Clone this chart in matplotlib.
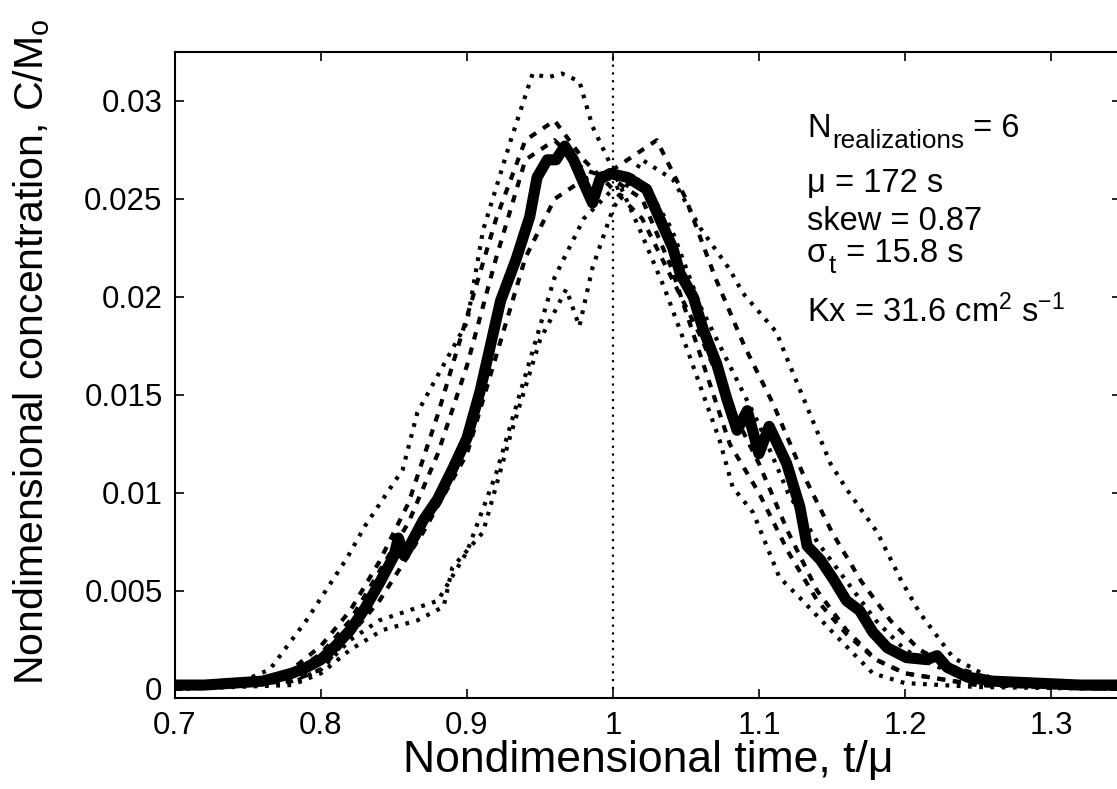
import numpy as np
import matplotlib
matplotlib.use('Agg')
import matplotlib.pyplot as plt
from matplotlib.transforms import offset_copy

plt.rcParams['font.family'] = ['Liberation Sans', 'DejaVu Sans']
plt.rcParams['mathtext.fontset'] = 'custom'
plt.rcParams['mathtext.rm'] = 'Liberation Sans'
plt.rcParams['mathtext.it'] = 'Liberation Sans'

# %% Ensemble mean (thick line)
mean_t = [0.700, 0.720, 0.740, 0.760, 0.770, 0.780, 0.790, 0.800, 0.810, 0.820,
          0.830, 0.840, 0.850, 0.853, 0.857, 0.860, 0.870, 0.880, 0.890, 0.900,
          0.909, 0.923, 0.934, 0.943, 0.948, 0.955, 0.961, 0.967, 0.973, 0.980,
          0.986, 0.991, 0.998, 1.010, 1.023, 1.032, 1.041, 1.046, 1.055, 1.062,
          1.071, 1.078, 1.085, 1.092, 1.100, 1.107, 1.119, 1.128, 1.133, 1.142,
          1.151, 1.160, 1.169, 1.178, 1.188, 1.201, 1.215, 1.222, 1.229, 1.243,
          1.260, 1.290, 1.320, 1.350]
mean_c = [0.0002, 0.0002, 0.0003, 0.0004, 0.0006, 0.0008, 0.0011, 0.0015, 0.0022, 0.0030,
          0.0041, 0.0054, 0.0068, 0.0077, 0.0068, 0.0072, 0.0086, 0.0097, 0.0112, 0.0128,
          0.0152, 0.0198, 0.0220, 0.0241, 0.0261, 0.0270, 0.0270, 0.0277, 0.0270, 0.0258,
          0.0248, 0.0260, 0.0263, 0.0261, 0.0255, 0.0240, 0.0225, 0.0212, 0.0200, 0.0183,
          0.0166, 0.0148, 0.0132, 0.0142, 0.0120, 0.0134, 0.0115, 0.0093, 0.0073, 0.0066,
          0.0056, 0.0045, 0.0040, 0.0029, 0.0021, 0.0016, 0.0015, 0.0017, 0.0011, 0.0006,
          0.0004, 0.0003, 0.0002, 0.0002]

# %% Individual realizations (dotted), approximate traces
r1_t = [0.70, 0.74, 0.765, 0.79, 0.818, 0.83, 0.856, 0.866, 0.88, 0.90, 0.911, 0.93, 0.945,
        0.955, 0.965, 0.977, 0.986, 1.00, 1.018, 1.035, 1.05, 1.073, 1.082, 1.096, 1.114,
        1.13, 1.153, 1.178, 1.20, 1.25, 1.35]
r1_c = [0.0, 0.0002, 0.0010, 0.0035, 0.0067, 0.0083, 0.0112, 0.0141, 0.0160, 0.0187, 0.0234,
        0.0280, 0.0314, 0.0312, 0.0314, 0.0310, 0.0287, 0.0265, 0.0235, 0.0205, 0.0175, 0.0127,
        0.0103, 0.0090, 0.0057, 0.0045, 0.0027, 0.0008, 0.0003, 0.0001, 0.0]

r2_t = [0.70, 0.76, 0.78, 0.80, 0.82, 0.84, 0.86, 0.88, 0.90, 0.92, 0.94, 0.96, 0.98, 1.00,
        1.02, 1.04, 1.06, 1.08, 1.10, 1.12, 1.14, 1.16, 1.18, 1.20, 1.25, 1.35]
r2_c = [0.0, 0.0003, 0.0010, 0.0022, 0.0040, 0.0065, 0.0095, 0.0140, 0.0190, 0.0240, 0.0280,
        0.0290, 0.0270, 0.0255, 0.0240, 0.0210, 0.0180, 0.0145, 0.0115, 0.0080, 0.0050,
        0.0030, 0.0015, 0.0008, 0.0002, 0.0]

r3_t = [0.70, 0.78, 0.80, 0.82, 0.842, 0.866, 0.884, 0.89, 0.911, 0.93, 0.95, 0.968, 0.977,
        0.986, 1.00, 1.02, 1.041, 1.06, 1.08, 1.089, 1.112, 1.119, 1.149, 1.16, 1.181, 1.197,
        1.21, 1.233, 1.26, 1.30, 1.35]
r3_c = [0.0, 0.0002, 0.0008, 0.0020, 0.0030, 0.0035, 0.0042, 0.0062, 0.0080, 0.0130, 0.0178,
        0.0204, 0.0185, 0.0215, 0.0245, 0.0270, 0.0260, 0.0235, 0.0214, 0.0202, 0.0182, 0.0169,
        0.0115, 0.0102, 0.0080, 0.0056, 0.0039, 0.0016, 0.0005, 0.0002, 0.0]

r4_t = [0.70, 0.78, 0.80, 0.84, 0.87, 0.90, 0.92, 0.94, 0.96, 0.98, 1.00, 1.02, 1.03, 1.05,
        1.07, 1.09, 1.11, 1.13, 1.15, 1.17, 1.19, 1.21, 1.23, 1.26, 1.30, 1.35]
r4_c = [0.0, 0.0004, 0.0010, 0.0045, 0.0080, 0.0120, 0.0170, 0.0220, 0.0250, 0.0260, 0.0265,
        0.0275, 0.0280, 0.0250, 0.0210, 0.0175, 0.0145, 0.0110, 0.0080, 0.0055, 0.0035,
        0.0020, 0.0012, 0.0005, 0.0002, 0.0]

r5_t = [0.70, 0.78, 0.80, 0.82, 0.84, 0.86, 0.88, 0.90, 0.92, 0.94, 0.96, 0.98, 1.00, 1.02,
        1.04, 1.06, 1.08, 1.10, 1.12, 1.14, 1.16, 1.18, 1.20, 1.22, 1.25, 1.30, 1.35]
r5_c = [0.0, 0.0003, 0.0010, 0.0025, 0.0035, 0.0040, 0.0045, 0.0070, 0.0110, 0.0160, 0.0210,
        0.0240, 0.0255, 0.0260, 0.0235, 0.0195, 0.0165, 0.0135, 0.0100, 0.0075, 0.0055,
        0.0035, 0.0020, 0.0012, 0.0004, 0.0001, 0.0]

r6_t = [0.70, 0.76, 0.78, 0.80, 0.82, 0.84, 0.86, 0.88, 0.90, 0.92, 0.94, 0.96, 0.98, 1.00,
        1.02, 1.04, 1.06, 1.08, 1.10, 1.12, 1.14, 1.16, 1.18, 1.20, 1.25, 1.35]
r6_c = [0.0, 0.0003, 0.0008, 0.0018, 0.0035, 0.0060, 0.0085, 0.0120, 0.0165, 0.0220, 0.0270,
        0.0280, 0.0265, 0.0260, 0.0250, 0.0215, 0.0170, 0.0125, 0.0100, 0.0070, 0.0045,
        0.0028, 0.0015, 0.0008, 0.0002, 0.0]

realizations = [(r1_t, r1_c), (r2_t, r2_c), (r3_t, r3_c),
                (r4_t, r4_c), (r5_t, r5_c), (r6_t, r6_c)]

# %% Figure
fig = plt.figure(figsize=(11.17, 7.89), dpi=100)
ax = fig.add_axes([175 / 1117, 91 / 789, 946 / 1117, 646 / 789])

styles = [(0, (0.9, 1.8)), (0, (1.8, 2.0)), (0, (0.9, 1.8)),
          (0, (1.8, 2.0)), (0, (0.9, 1.8)), (0, (1.8, 2.0))]
for (t, c), ls in zip(realizations, styles):
    ax.plot(t, c, color='black', lw=3.0, linestyle=ls)

ax.plot(mean_t, mean_c, color='black', lw=8, solid_capstyle='round', solid_joinstyle='round')

ax.plot([1, 1], [0, 0.0325], color='black', lw=1.6, linestyle=(0, (1, 2.5)))

ax.set_xlim(0.7, 1.348)
ax.set_ylim(-0.00046, 0.0325)
ax.set_xticks([0.7, 0.8, 0.9, 1.0, 1.1, 1.2, 1.3])
ax.set_xticklabels(['0.7', '0.8', '0.9', '1', '1.1', '1.2', '1.3'])
ax.set_yticks([0, 0.005, 0.01, 0.015, 0.02, 0.025, 0.03])
ax.set_yticklabels(['0', '0.005', '0.01', '0.015', '0.02', '0.025', '0.03'])
ax.tick_params(direction='in', length=6.5, width=1.2, labelsize=22.5,
               top=True, right=True, pad=9)
for s in ax.spines.values():
    s.set_linewidth(1.5)

ax.set_xlabel('Nondimensional time, t/μ', fontsize=32, labelpad=0)
ax.set_ylabel('Nondimensional concentration, C/M$_\\mathrm{o}$', fontsize=29.5)
ax.yaxis.set_label_coords((52 - 175) / 946, (698 - 352) / 646)

# %% Annotation block
tx = 807 / 1117
fs = 23.5
fig.canvas.draw()
rend = fig.canvas.get_renderer()

t_n = fig.text(tx, 1 - 137 / 789, 'N', fontsize=fs, va='baseline')
w = t_n.get_window_extent(rend).width
t_sub = fig.text(0, 0, 'realizations', fontsize=fs * 0.8, va='baseline',
                 transform=offset_copy(fig.transFigure, fig=fig, x=w / 100 * 72 + 1,
                                       y=-8, units='points'))
t_sub.set_position((tx, 1 - 137 / 789))
w2 = t_sub.get_window_extent(rend).width
fig.text(0, 0, ' = 6', fontsize=fs, va='baseline',
         transform=offset_copy(fig.transFigure, fig=fig, x=(w + w2) / 100 * 72 + 1,
                               units='points')).set_position((tx, 1 - 137 / 789))

fig.text(tx, 1 - 192 / 789, 'μ = 172 s', fontsize=fs, va='baseline')
fig.text(tx, 1 - 230 / 789, 'skew = 0.87', fontsize=fs, va='baseline')

t_s = fig.text(tx, 1 - 262 / 789, 'σ', fontsize=fs, va='baseline')
ws = t_s.get_window_extent(rend).width
fig.text(0, 0, 't', fontsize=fs * 0.8, va='baseline',
         transform=offset_copy(fig.transFigure, fig=fig, x=ws / 100 * 72 + 1,
                               y=-8, units='points')).set_position((tx, 1 - 262 / 789))
fig.text(0, 0, ' = 15.8 s', fontsize=fs, va='baseline',
         transform=offset_copy(fig.transFigure, fig=fig, x=ws / 100 * 72 + 7,
                               units='points')).set_position((tx, 1 - 262 / 789))

fig.text(tx, 1 - 322 / 789, 'Kx = 31.6 cm$^2$ s$^{−1}$', fontsize=fs, va='baseline')

fig.savefig('out.png', dpi=100, facecolor='white')
